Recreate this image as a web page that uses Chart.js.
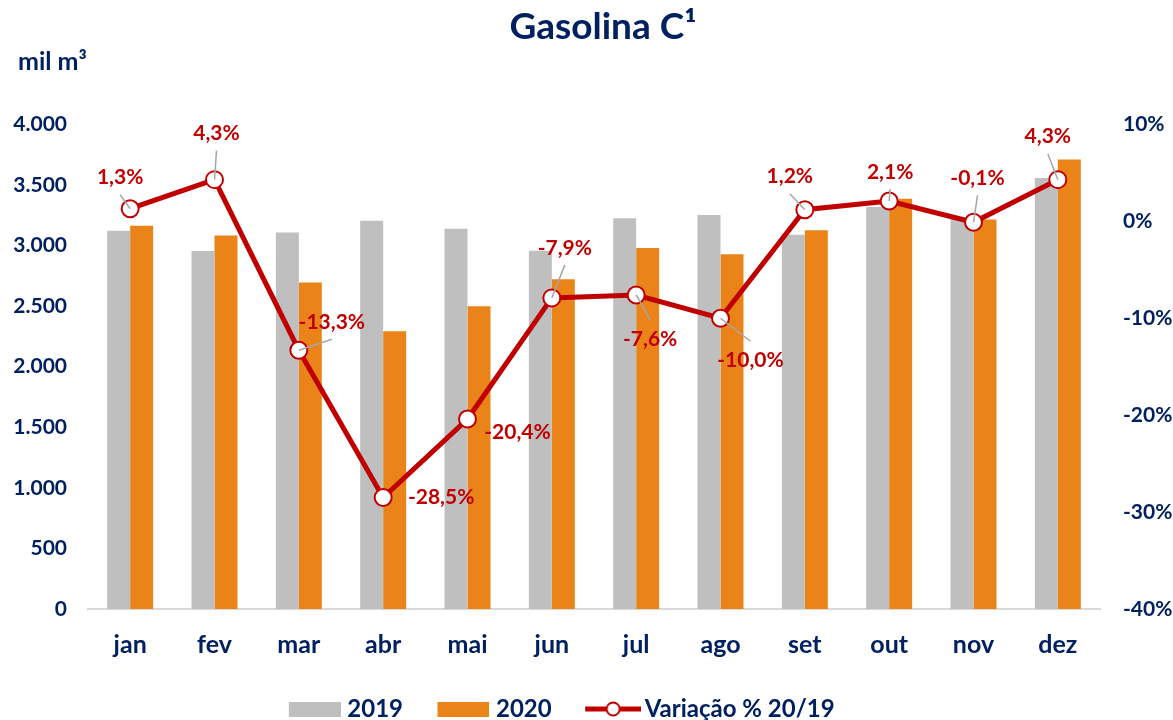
<!DOCTYPE html>
<html lang="pt-BR">
<head>
<meta charset="utf-8">
<title>Gasolina C</title>
<script src="https://cdn.jsdelivr.net/npm/chart.js@4.4.1/dist/chart.umd.min.js"></script>
<style>
  html, body { margin: 0; padding: 0; background: #fff; }
  #wrap { width: 1173px; height: 720px; }
</style>
</head>
<body>
<div id="wrap"><canvas id="gasolinaChart" width="1173" height="720"></canvas></div>
<script>
// Dados (mil m³ e variação %)
const meses = ['jan', 'fev', 'mar', 'abr', 'mai', 'jun', 'jul', 'ago', 'set', 'out', 'nov', 'dez'];
const vendas2019 = [3123, 2955, 3107, 3205, 3139, 2957, 3225, 3253, 3089, 3318, 3219, 3558];
const vendas2020 = [3164, 3082, 2694, 2293, 2499, 2722, 2980, 2928, 3126, 3387, 3216, 3711];
const variacao = [1.3, 4.3, -13.3, -28.5, -20.4, -7.9, -7.6, -10.0, 1.2, 2.1, -0.1, 4.3];
const ticksVolume = [0, 500, 1000, 1500, 2000, 2500, 3000, 3500, 4000];
const ticksVariacao = [-40, -30, -20, -10, 0, 10];

// deslocamento dos rótulos da linha em relação ao ponto (px)
const posRotulos = [[-10, -31], [2, -46], [33, -28], [58, 0], [50, 13], [13, -50],
                    [14, 44], [30, 42], [-15, -33], [1, -29], [4, -44], [-10, -43]];

const AZUL = '#002060';
const CINZA = '#bfbfbf';
const LARANJA = '#ea8419';
const VERMELHO = '#c00000';
const FONTE = 'Lato';

const milhar = (v) => String(v).replace(/\B(?=(\d{3})+(?!\d))/g, '.');
const pct = (v) => v.toFixed(1).replace('.', ',') + '%';

// ícones da legenda
function iconeBarra(cor) {
  const c = document.createElement('canvas');
  c.width = 92; c.height = 15;
  const g = c.getContext('2d');
  g.fillStyle = cor;
  g.fillRect(40, 0, 52, 15);
  return c;
}
function iconeLinha() {
  const c = document.createElement('canvas');
  c.width = 98; c.height = 18;
  const g = c.getContext('2d');
  g.strokeStyle = VERMELHO;
  g.lineWidth = 5;
  g.beginPath(); g.moveTo(42, 9); g.lineTo(98, 9); g.stroke();
  g.fillStyle = '#fff';
  g.lineWidth = 2;
  g.beginPath(); g.arc(70, 9, 6.5, 0, Math.PI * 2); g.fill(); g.stroke();
  return c;
}
const icones = [iconeBarra(CINZA), iconeBarra(LARANJA), iconeLinha()];

const extras = {
  id: 'extras',
  afterLayout(chart) {
    // alinhar título e legenda como no original
    chart.titleBlock.left += 33;
    chart.legend.left -= 42;
    chart.legend.right -= 42;
    chart.legend.top += 11;
  },
  afterDraw(chart) {
    const ctx = chart.ctx;
    ctx.save();
    ctx.font = `bold 25px ${FONTE}`;
    ctx.fillStyle = AZUL;
    ctx.textAlign = 'left';
    ctx.textBaseline = 'middle';
    ctx.fillText('mil m³', 18, 62);
    ctx.restore();
  },
  afterDatasetsDraw(chart) {
    const meta = chart.getDatasetMeta(2);
    const ctx = chart.ctx;
    ctx.save();
    ctx.font = `bold 21px ${FONTE}`;
    ctx.textAlign = 'center';
    ctx.textBaseline = 'middle';
    meta.data.forEach((pt, i) => {
      const [dx, dy] = posRotulos[i];
      const lx = pt.x + dx, ly = pt.y + dy;
      if (Math.abs(dy) > 25) {
        ctx.strokeStyle = '#a6a6a6';
        ctx.lineWidth = 1.5;
        ctx.beginPath();
        ctx.moveTo(pt.x, pt.y);
        ctx.lineTo(lx, ly + (dy < 0 ? 17 : -19));
        ctx.stroke();
      }
      ctx.fillStyle = VERMELHO;
      ctx.fillText(pct(variacao[i]), lx, ly);
    });
    ctx.restore();
  }
};

const ctx = document.getElementById('gasolinaChart').getContext('2d');

new Chart(ctx, {
  type: 'bar',
  data: {
    labels: meses,
    datasets: [
      {
        label: '2019',
        data: vendas2019,
        backgroundColor: CINZA,
        yAxisID: 'y',
        order: 1
      },
      {
        label: '2020',
        data: vendas2020,
        backgroundColor: LARANJA,
        yAxisID: 'y',
        order: 1
      },
      {
        type: 'line',
        label: 'Variação % 20/19',
        data: variacao,
        yAxisID: 'y1',
        borderColor: VERMELHO,
        borderWidth: 5,
        pointRadius: 8.5,
        pointBorderWidth: 2,
        pointBackgroundColor: '#fff',
        pointBorderColor: VERMELHO,
        tension: 0,
        order: 0
      }
    ]
  },
  options: {
    responsive: false,
    animation: false,
    datasets: {
      bar: { categoryPercentage: 0.545, barPercentage: 1 }
    },
    plugins: {
      title: {
        display: true,
        text: 'Gasolina C¹',
        color: AZUL,
        font: { family: FONTE, size: 37, weight: 'bold' },
        padding: { top: 5, bottom: 75 }
      },
      legend: {
        position: 'bottom',
        labels: {
          usePointStyle: true,
          pointStyleWidth: 81,
          padding: 0,
          color: AZUL,
          font: { family: FONTE, size: 24, weight: 'bold' },
          generateLabels: (chart) => chart.data.datasets.map((ds, i) => ({
            text: ds.label,
            pointStyle: icones[i],
            fillStyle: 'transparent',
            strokeStyle: 'transparent',
            lineWidth: 0,
            fontColor: AZUL,
            hidden: !chart.isDatasetVisible(i),
            datasetIndex: i
          }))
        }
      },
      tooltip: { enabled: false }
    },
    scales: {
      x: {
        grid: { display: false, drawTicks: false },
        border: { display: true, color: '#d9d9d9', width: 2 },
        ticks: {
          color: AZUL,
          padding: 21,
          font: { family: FONTE, size: 25, weight: 'bold' }
        },
        afterFit: (scale) => { scale.height = 77; }
      },
      y: {
        position: 'left',
        min: ticksVolume[0],
        max: ticksVolume[ticksVolume.length - 1],
        grid: { display: false, drawTicks: false },
        border: { display: false },
        ticks: {
          stepSize: ticksVolume[1] - ticksVolume[0],
          color: AZUL,
          padding: 21,
          font: { family: FONTE, size: 21, weight: 'bold' },
          callback: (v) => milhar(v)
        },
        afterFit: (scale) => { scale.width = 88; }
      },
      y1: {
        position: 'right',
        min: ticksVariacao[0],
        max: ticksVariacao[ticksVariacao.length - 1],
        grid: { display: false, drawTicks: false },
        border: { display: false },
        ticks: {
          stepSize: ticksVariacao[1] - ticksVariacao[0],
          color: AZUL,
          padding: 23,
          font: { family: FONTE, size: 21, weight: 'bold' },
          callback: (v) => v + '%'
        },
        afterFit: (scale) => { scale.width = 73; }
      }
    }
  },
  plugins: [extras]
});
</script>
</body>
</html>
